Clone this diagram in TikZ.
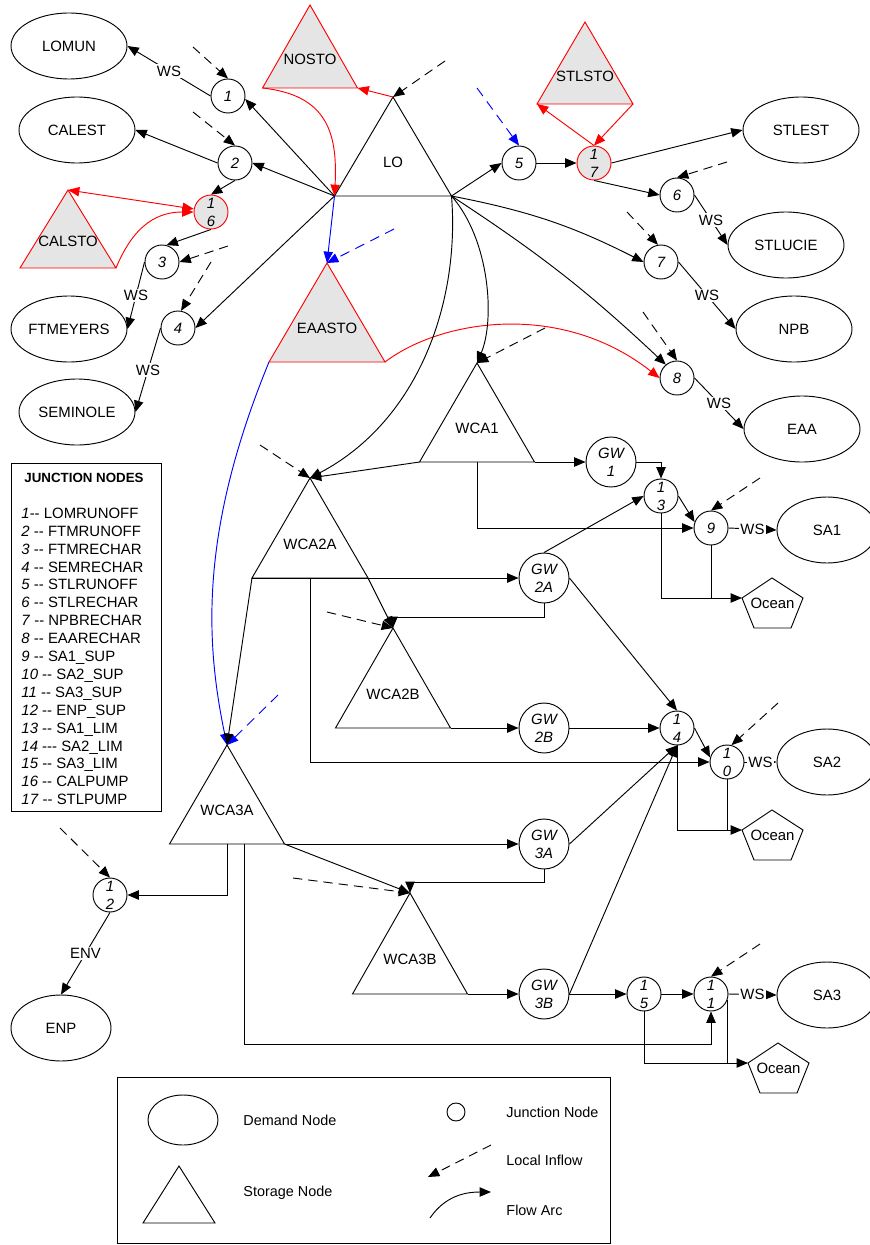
\documentclass[tikz,border=0pt]{standalone}
\usepackage{fontspec}
\setmainfont{Liberation Sans}[Ligatures=TeXOff]
\usetikzlibrary{arrows.meta,shapes.geometric,calc}
\newcommand{\fsz}{\fontsize{11.2}{13.5}\selectfont}
\newcommand{\lfsz}{\fontsize{10.8}{13}\selectfont}
\newcommand{\storenode}[7]{%
  \coordinate (#1-a) at (#2,#3);
  \coordinate (#1-l) at ($(#1-a)+(-#4,#5)$);
  \coordinate (#1-r) at ($(#1-a)+(#4,#5)$);
  \coordinate (#1-m) at ($(#1-a)+(0,#5)$);
  \draw[#7] (#1-a) -- (#1-l) -- (#1-r) -- cycle;
  \node[storlbl] (#1) at ($(#1-a)+(0,{0.66*#5})$) {#6};
}
\newcommand{\jctnode}[5]{%
  \node[#5] (#1) at (#2,#3) {};
  \node[jtxt] (#1-t) at (#1) {#4};
}
\newcommand{\oceannode}[3]{%
  \coordinate (#1) at (#2,#3);
  \draw[oceanstyle] (#1) -- ++(30,-20) -- ++(31,20) -- ++(-12,30) -- ++(-37,0) -- cycle;
  \node[storlbl] (#1-t) at ($(#1)+(30.5,5)$) {Ocean};
}
\tikzset{
  flow/.style={->},
  inflow/.style={->, dash pattern=on 7pt off 4.5pt},
  redflow/.style={->, red},
  blueflow/.style={->, blue},
  blueinflow/.style={->, blue, dash pattern=on 7.5pt off 5pt},
  demand/.style={ellipse, draw, minimum width=87pt, minimum height=49.5pt, inner sep=0pt, font=\fsz},
  smalldemand/.style={demand, minimum width=75pt},
  junc/.style={circle, draw, minimum size=25.5pt, inner sep=0pt},
  pump/.style={junc, draw=red, fill=gray!20},
  gwnode/.style={circle, draw, minimum size=37.5pt, inner sep=0pt},
  jtxt/.style={font=\itshape\fsz, align=center, inner sep=0pt},
  wslbl/.style={fill=white, inner sep=1pt, font=\fsz},
  storlbl/.style={font=\fsz, inner sep=0pt},
  plainstore/.style={draw=black},
  redstore/.style={draw=red, fill=gray!20},
  oceanstyle/.style={draw=black},
  legtxt/.style={font=\lfsz, anchor=west, inner sep=0pt},
}
\begin{document}
\begin{tikzpicture}[x=0.75pt, y=-0.75pt, line width=0.7pt, >={Triangle[length=8.5pt,width=7pt]}]
\fill[white] (0,0) rectangle (869,1245);
\useasboundingbox (0,0) rectangle (869,1245);

% ---------- storage nodes ----------
\storenode{NOSTO}{310}{5}{47.5}{83}{NOSTO}{redstore}
\storenode{LO}{393}{97}{58.5}{99}{LO}{plainstore}
\storenode{STLSTO}{585}{22}{48}{82}{STLSTO}{redstore}
\storenode{CALSTO}{68}{190}{48}{78}{CALSTO}{redstore}
\storenode{EAASTO}{327}{263}{58}{99}{EAASTO}{redstore}
\storenode{WCA1}{477}{363}{57.5}{99}{WCA1}{plainstore}
\storenode{WCA2A}{310}{478}{58}{100}{WCA2A}{plainstore}
\storenode{WCA2B}{393}{628}{57.5}{100}{WCA2B}{plainstore}
\storenode{WCA3A}{227}{745}{57.5}{99}{WCA3A}{plainstore}
\storenode{WCA3B}{410}{893}{57.5}{101}{WCA3B}{plainstore}

% ---------- demand nodes ----------
\node[demand] (LOMUN) at (69,46) {LOMUN};
\node[demand] (CALEST) at (77,130) {CALEST};
\node[demand] (FTMEYERS) at (69,329) {FTMEYERS};
\node[demand] (SEMINOLE) at (77,412) {SEMINOLE};
\node[demand] (STLEST) at (801,130) {STLEST};
\node[demand] (STLUCIE) at (786,245) {STLUCIE};
\node[demand] (NPB) at (794,329) {NPB};
\node[demand] (EAA) at (802,429) {EAA};
\node[smalldemand] (SA1) at (827,530) {SA1};
\node[smalldemand] (SA2) at (827,762) {SA2};
\node[smalldemand] (SA3) at (827,995) {SA3};
\node[smalldemand] (ENP) at (61,1028) {ENP};

% ---------- junction nodes ----------
\jctnode{j1}{228}{96}{1}{junc}
\jctnode{j2}{235}{163}{2}{junc}
\jctnode{j16}{211}{212}{1\\6}{pump}
\jctnode{j3}{162}{262}{3}{junc}
\jctnode{j4}{178}{328}{4}{junc}
\jctnode{j5}{519}{163}{5}{junc}
\jctnode{j17}{594}{163}{1\\7}{pump}
\jctnode{j6}{677}{195}{6}{junc}
\jctnode{j7}{661}{262}{7}{junc}
\jctnode{j8}{677}{378}{8}{junc}
\jctnode{j13}{661}{496}{1\\3}{junc}
\jctnode{j9}{711}{528}{9}{junc}
\jctnode{j14}{677}{728}{1\\4}{junc}
\jctnode{j10}{727}{762}{1\\0}{junc}
\jctnode{j15}{644}{994}{1\\5}{junc}
\jctnode{j11}{711}{994}{1\\1}{junc}
\jctnode{j12}{110}{895}{1\\2}{junc}
\jctnode{gw1}{611}{462}{GW\\1}{gwnode}
\jctnode{gw2a}{544}{578}{GW\\2A}{gwnode}
\jctnode{gw2b}{544}{728}{GW\\2B}{gwnode}
\jctnode{gw3a}{544}{844}{GW\\3A}{gwnode}
\jctnode{gw3b}{544}{994}{GW\\3B}{gwnode}

\oceannode{oc1}{742}{598}
\oceannode{oc2}{742}{830}
\oceannode{oc3}{748}{1063}

% ---------- local inflow start points ----------
\coordinate (d1) at (193,47);
\coordinate (d2) at (193,112);
\coordinate (d3) at (228,246);
\coordinate (d4) at (211,262);
\coordinate (dLO) at (445,61);
\coordinate (dEA) at (394,229);
\coordinate (d5) at (477,88);
\coordinate (d6) at (727,162);
\coordinate (d7) at (627,212);
\coordinate (d8) at (643,312);
\coordinate (dW1) at (545,328);
\coordinate (dW2A) at (260,445);
\coordinate (dW2B) at (327,612);
\coordinate (dW3A) at (278,695);
\coordinate (dW3B) at (293,878);
\coordinate (d9) at (760,478);
\coordinate (d10) at (778,703);
\coordinate (d11) at (760,944);
\coordinate (d12) at (60,828);

\draw[inflow] (d1) -- (j1.north);
\draw[inflow] (d2) -- (j2.north);
\draw[inflow] (d3) -- (j3.east);
\draw[inflow] (d4) -- (j4.80);
\draw[inflow] (dLO) -- (LO-a);
\draw[blueinflow] (dEA) -- (EAASTO-a);
\draw[blueinflow] (d5) -- (j5.north);
\draw[inflow] (d6) -- (j6.north);
\draw[inflow] (d7) -- (j7.100);
\draw[inflow] (d8) -- (j8.north);
\draw[inflow] (dW1) -- (WCA1-a);
\draw[inflow] (dW2A) -- (WCA2A-a);
\draw[inflow] (dW2B) -- (WCA2B-a);
\draw[blueinflow] (dW3A) -- (WCA3A-a);
\draw[inflow] (dW3B) -- (WCA3B-a);
\draw[inflow] (d9) -- (j9.north);
\draw[inflow] (d10) -- (j10.75);
\draw[inflow] (d11) -- (j11.north);
\draw[inflow] (d12) -- (j12.north);

% ---------- west side ----------
\draw[flow] (j1.west) -- node[wslbl] {WS} (LOMUN.east);
\draw[flow] (LO-l) -- (j1.-10);
\draw[flow] (LO-l) -- (j2.east);
\draw[flow] (j2.west) -- (CALEST.east);
\draw[flow] (j2.south) -- (j16.north);
\draw[red, <->] (CALSTO-a) -- (j16.170);
\draw[redflow] (CALSTO-r) .. controls (135,222) and (160,212) .. (j16.west);
\draw[flow] (j16.south) -- (j3.75);
\draw[flow] (j3.west) -- node[wslbl] {WS} (FTMEYERS.east);
\draw[flow] (LO-l) -- (j4.east);
\draw[flow] (j4.west) -- node[wslbl] {WS} (SEMINOLE.east);
\draw[redflow] (LO-a) -- (NOSTO-r);
\draw[redflow] (NOSTO-l) .. controls (325,95) and (338,130) .. (LO-l);
\draw[blueflow] (LO-l) -- (EAASTO-a);
\draw[blueflow] (EAASTO-l) .. controls (200,530) and (205,640) .. (WCA3A-a);
\draw[redflow] (EAASTO-r) .. controls (440,320) and (560,300) .. (j8.west);

% ---------- east side ----------
\draw[flow] (LO-r) -- (j5.west);
\draw[flow] (j5.east) -- (j17.west);
\draw[redflow] (j17.north) -- (STLSTO-l);
\draw[redflow] (STLSTO-r) -- (j17.north);
\draw[flow] (j17.east) -- (STLEST.west);
\draw[flow] (j17.south) -- (j6.west);
\draw[flow] (j6.east) -- node[wslbl] {WS} (STLUCIE.west);
\draw[flow] (LO-r) to[bend left=8] (j7.west);
\draw[flow] (j7.east) -- node[wslbl] {WS} (NPB.west);
\draw[flow] (LO-r) to[bend left=5] (j8.130);
\draw[flow] (j8.east) -- node[wslbl] {WS} (EAA.west);
\draw[flow] (LO-r) .. controls (490,240) and (495,320) .. (WCA1-a);
\draw[flow] (LO-r) .. controls (460,300) and (420,420) .. (WCA2A-a);

% ---------- WCA1 ----------
\draw[flow] (WCA1-l) -- (WCA2A-a);
\draw[flow] (WCA1-r) -- (gw1.west);
\draw[flow] (WCA1-m) |- (j9.west);
\draw[flow] (gw1.east) -| (j13.north);
\draw[flow] (gw2a.north) -- (j13.west);
\draw[flow] (j13.east) -- (j9.160);
\draw[flow] (j13.south) |- (oc1);
\draw (j9.south) -- (j9.south |- oc1);
\draw[flow] (j9.east) -- node[wslbl] {WS} (SA1.west);

% ---------- WCA2 ----------
\draw[flow] (WCA2A-l) -- (gw2a.west);
\draw[flow] (WCA2A-l) -- (WCA3A-a);
\draw[flow] (WCA2A-m) |- (j10.west);
\draw[flow] (WCA2A-r) -- (WCA2B-a);
\draw[flow] (gw2a.south) -- ++(0,14) -| (WCA2B-a);
\draw[flow] (WCA2B-r) -- (gw2b.west);
\draw[flow] (gw2b.east) -- (j14.west);
\draw[flow] (gw2a.east) -- (j14.north);
\draw[flow] (j14.east) -- (j10.165);
\draw[flow] (j14.south) |- (oc2);
\draw (j10.south) -- (j10.south |- oc2);
\draw[flow] (j10.east) -- node[wslbl] {WS} (SA2.west);

% ---------- WCA3 ----------
\draw[flow] (gw3a.east) -- (j14.south);
\draw[flow] (gw3b.east) -- (j14.south);
\draw[flow] (WCA3A-r) -- (gw3a.west);
\draw[flow] (WCA3A-r) -- (WCA3B-a);
\draw[flow] (WCA3A-m) |- (j12.east);
\coordinate (w3x) at ($(WCA3A-m)+(17,0)$);
\path (j11.south) ++(0,33) coordinate (lowturn);
\draw[flow] (w3x) |- (lowturn) -- (j11.south);
\draw[flow] (gw3a.south) -- ++(0,13) -| (WCA3B-a);
\draw[flow] (WCA3B-r) -- (gw3b.west);
\draw[flow] (gw3b.east) -- (j15.west);
\draw[flow] (j15.east) -- (j11.west);
\draw[flow] (j15.south) |- (oc3);
\draw (j11.-20) -- (j11.-20 |- oc3);
\draw[flow] (j11.east) -- node[wslbl] {WS} (SA3.west);
\draw[flow] (j12.south) -- node[wslbl] {ENV} (ENP.north);

% ---------- junction node list ----------
\node[draw, anchor=north west, minimum width=112.5pt, minimum height=261pt, inner sep=0pt] (jbox) at (11,463) {};
\node[font=\bfseries\fontsize{10}{12}\selectfont, inner sep=0pt] (jtitle) at (84,478) {JUNCTION NODES};
\foreach \i/\t in {1/{\textit{1}-- LOMRUNOFF}, 2/{\textit{2} -- FTMRUNOFF}, 3/{\textit{3} -- FTMRECHAR},
  4/{\textit{4} -- SEMRECHAR}, 5/{\textit{5} -- STLRUNOFF}, 6/{\textit{6} -- STLRECHAR},
  7/{\textit{7} -- NPBRECHAR}, 8/{\textit{8} -- EAARECHAR}, 9/{\textit{9} -- SA1\_SUP},
  10/{\textit{10} -- SA2\_SUP}, 11/{\textit{11} -- SA3\_SUP}, 12/{\textit{12} -- ENP\_SUP},
  13/{\textit{13} -- SA1\_LIM}, 14/{\textit{14} --- SA2\_LIM}, 15/{\textit{15} -- SA3\_LIM},
  16/{\textit{16} -- CALPUMP}, 17/{\textit{17} -- STLPUMP}}{
  \node[font=\fsz, anchor=base west, inner sep=0pt] (jl\i) at (21,{518.3+(\i-1)*17.9}) {\t};
}

% ---------- legend ----------
\node[draw, anchor=north west, minimum width=369.75pt, minimum height=124.5pt, inner sep=0pt] (legbox) at (117,1077) {};
\node[ellipse, draw, minimum width=52.5pt, minimum height=37.5pt, inner sep=0pt] (legdem) at (183,1120) {};
\storenode{legsto}{179}{1166}{36}{57}{}{plainstore}
\node[circle, draw, minimum size=13.5pt, inner sep=0pt] (legjct) at (456,1112) {};
\coordinate (legin1) at (491,1145);
\coordinate (legin2) at (428,1177);
\draw[inflow] (legin1) -- (legin2);
\coordinate (legfa1) at (430,1218);
\coordinate (legfa2) at (491,1192);
\draw[flow] (legfa1) .. controls (445,1196) and (465,1192) .. (legfa2);
\node[legtxt] (ltdem) at (243,1120) {Demand Node};
\node[legtxt] (ltsto) at (243,1193) {Storage Node};
\node[legtxt] (ltjct) at (506,1112) {Junction Node};
\node[legtxt] (ltin) at (506,1160) {Local Inflow};
\node[legtxt] (ltfa) at (506,1210) {Flow Arc};
\end{tikzpicture}
\end{document}
